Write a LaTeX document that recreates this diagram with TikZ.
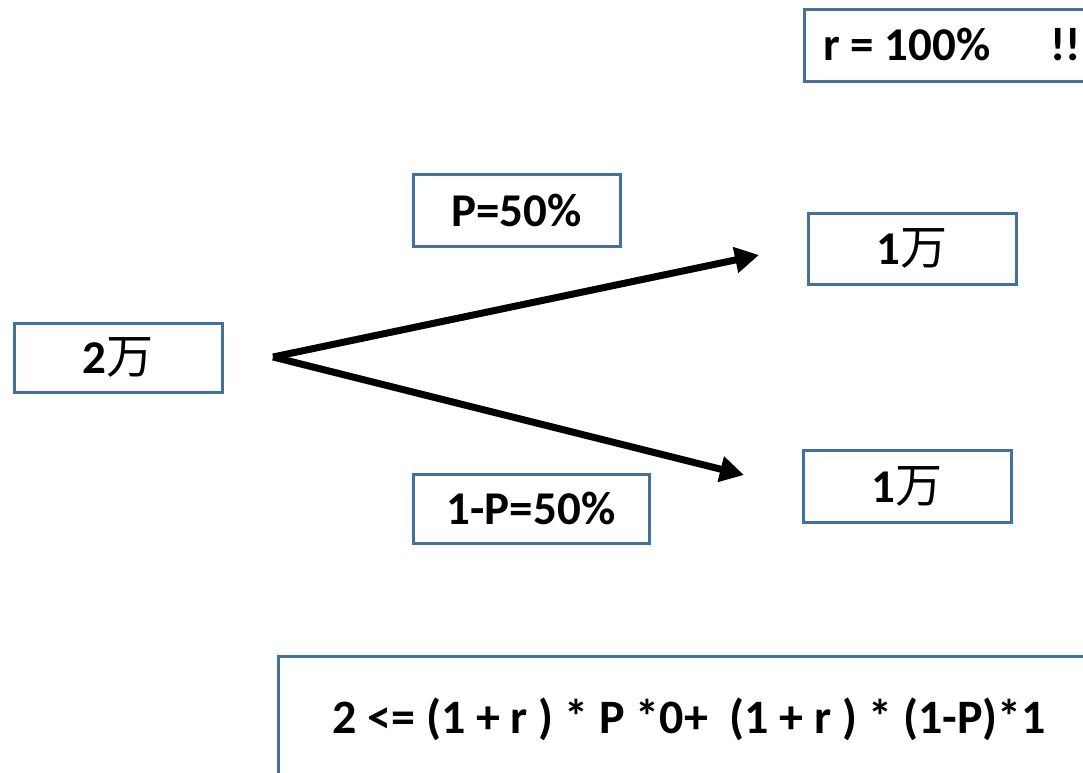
\documentclass[tikz,border=0pt]{standalone}
\usepackage{fontspec}
\setmainfont{Carlito}
\newfontfamily\cjk{Noto Sans CJK SC}
\usetikzlibrary{arrows.meta}
\definecolor{boxblue}{RGB}{65,113,156}
\newcommand{\wan}{{\cjk\mdseries 万}}
\tikzset{
  label font/.style={font=\fontsize{47}{52}\selectfont\bfseries},
  valbox/.style={draw=boxblue, line width=3pt, fill=white, inner sep=0pt, label font},
  branch/.style={line width=7pt, -{Triangle[length=24pt,width=25pt]}},
}
\begin{document}
\begin{tikzpicture}[x=1pt, y=-1pt]
\useasboundingbox (0,0) rectangle (1083,772);
\clip (0,0) rectangle (1083,772);

% rate of return, box runs past the right edge
\node[valbox, minimum width=300pt, minimum height=72pt, anchor=north west]
  (rate) at (803,8) {};
\node[label font, anchor=base west, inner sep=0pt]
  (ratetext) at (823,60) {r = 100\%\hspace{60pt}!!};

% starting capital
\node[valbox, minimum width=208pt, minimum height=69pt] (start) at (118,357.5) {\textbf{2}\wan};

% outcomes
\node[valbox, minimum width=208pt, minimum height=71pt] (up) at (912,248.5) {\textbf{1}\wan};
\node[valbox, minimum width=208pt, minimum height=72pt] (down) at (907,486) {\textbf{1}\wan};

% probabilities
\node[valbox, minimum width=207pt, minimum height=72pt] (pup) at (516.5,210) {P=50\%};
\node[valbox, minimum width=236pt, minimum height=69pt] (pdown) at (531,508.5) {1-P=50\%};

% branches
\coordinate (fork) at (273,357);
\coordinate (uptip) at (759,255);
\coordinate (downtip) at (744,475);
\draw[branch] (fork) -- (uptip);
\draw[branch] (fork) -- (downtip);

% condition, box runs past the right and bottom edges
\node[valbox, minimum width=830pt, minimum height=160pt, anchor=north west]
  (cond) at (277,655) {};
\node[font=\fontsize{48}{54}\selectfont\bfseries, anchor=base west, inner sep=0pt]
  (condtext) at (332,733) {2 <= (1 + r ) * P *0+ \ (1 + r ) * (1-P)*1};
\end{tikzpicture}
\end{document}
